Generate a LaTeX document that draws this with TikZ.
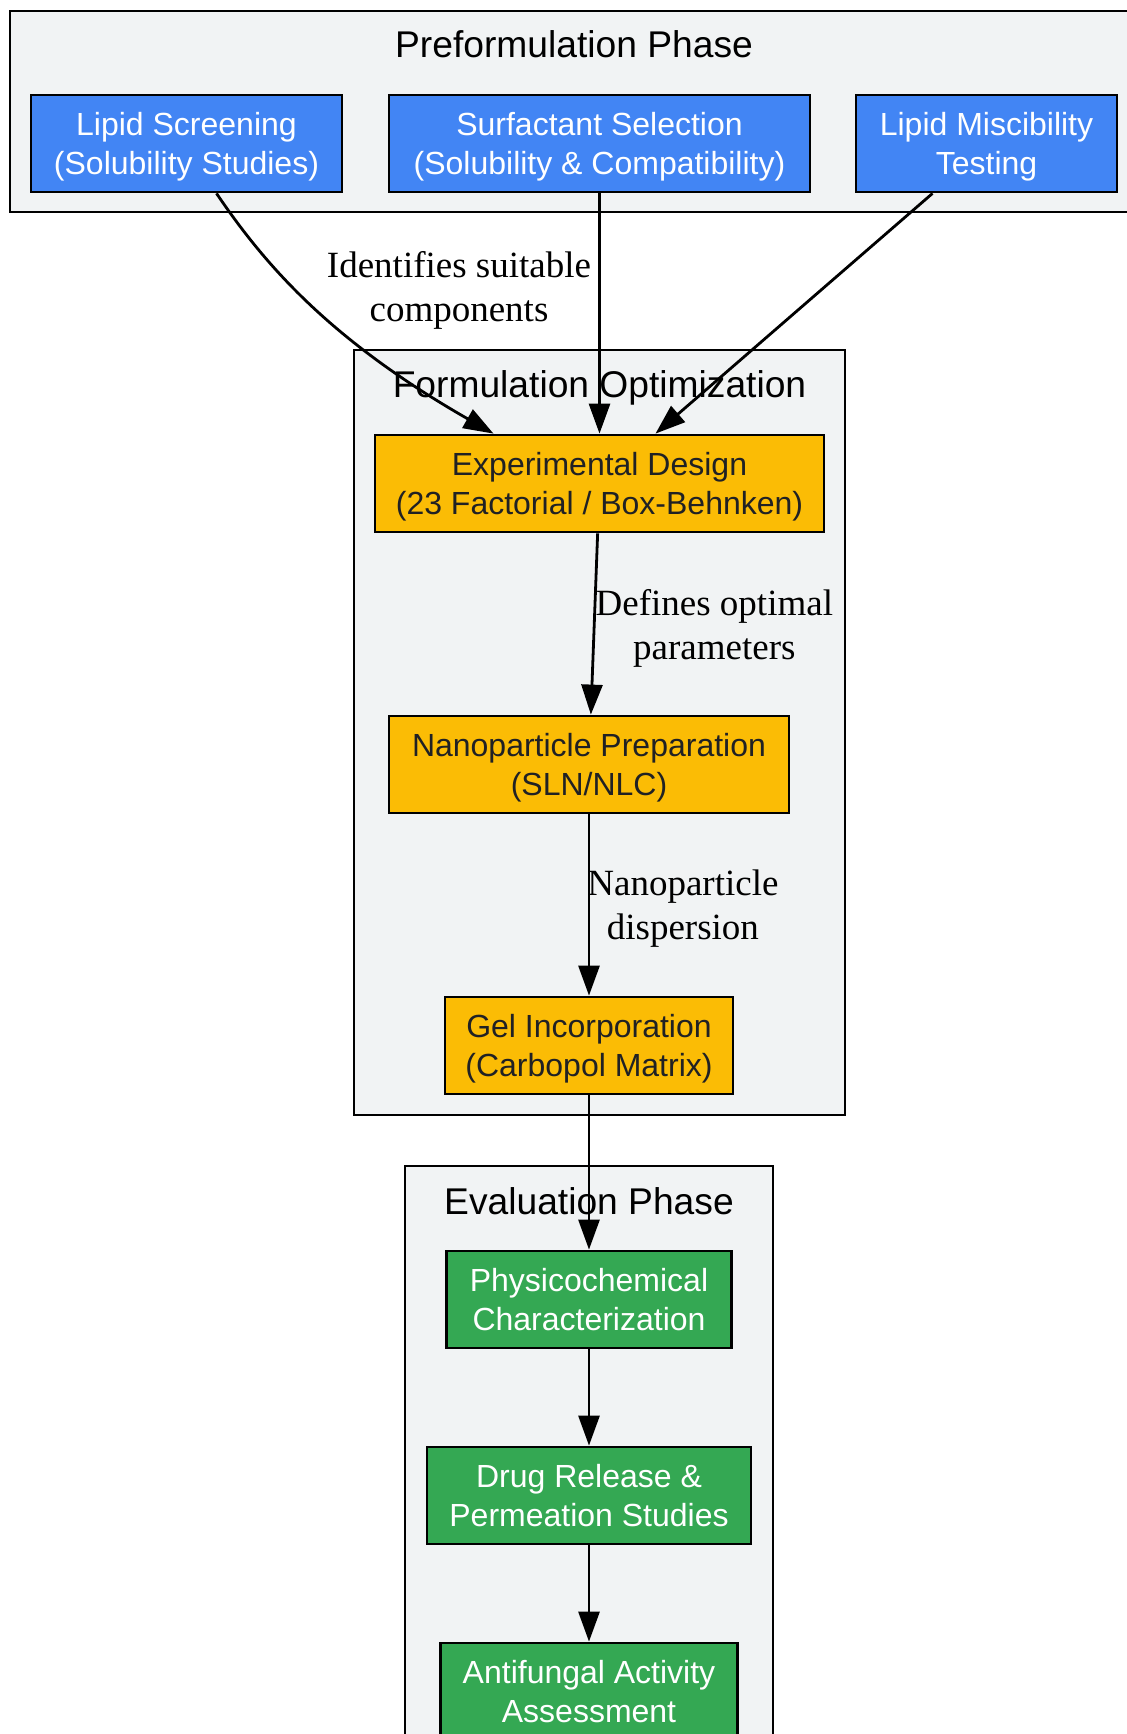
\documentclass[tikz,border=0pt]{standalone}
\usepackage{fontspec}
\setmainfont{Liberation Serif}
\setsansfont{Liberation Sans}
\usetikzlibrary{arrows.meta}

\definecolor{preblue}{HTML}{4285F4}
\definecolor{formyellow}{HTML}{FBBC05}
\definecolor{evalgreen}{HTML}{34A853}
\definecolor{clustergray}{HTML}{F1F3F4}
\definecolor{darktext}{HTML}{202124}

\begin{document}
\begin{tikzpicture}[
    x = 0.5pt, y = -0.5pt,
    line width = 1.4pt,
    > = {Triangle[length = 15pt, width = 10.5pt]},
    %
    cluster/.style = {draw, line width = 1pt, fill = clustergray, inner sep = 0pt},
    clustertitle/.style = {text depth = 0pt,
      font = \sffamily\fontsize{18.6}{22}\selectfont},
    %
    stage/.style = {draw, inner sep = 0pt, align = center,
      minimum height = 48.5pt, text depth = 0pt,
      font = \sffamily\fontsize{16}{19.2}\selectfont},
    prestage/.style = {fill = preblue, text = white},
    formstage/.style = {fill = formyellow, text = darktext},
    evalstage/.style = {fill = evalgreen, text = white},
    %
    edgetext/.style = {align = center, inner sep = 0pt, text depth = 0pt,
      font = \fontsize{18.5}{22}\selectfont},
    ]

    \fill [white] (0, 0) rectangle (1127, 1734);
    \useasboundingbox (0, 0) rectangle (1127, 1734);
    \clip (0, 0) rectangle (1127, 1734);

    % phases
    \node at (580, 111.5)
    [cluster, minimum width = 570pt, minimum height = 100.5pt, name = preform] {};
    \node at (574, 44) [clustertitle, name = preform_t] {Preformulation Phase};

    \node at (599.5, 732.5)
    [cluster, minimum width = 245.5pt, minimum height = 382.5pt, name = optim] {};
    \node at (599.5, 384) [clustertitle, name = optim_t] {Formulation Optimization};

    \node at (589, 1483)
    [cluster, minimum width = 184pt, minimum height = 317pt, name = evaluation] {};
    \node at (589, 1201) [clustertitle, name = evaluation_t] {Evaluation Phase};

    % steps
    \node at (186.5, 143.5)
    [stage, prestage, minimum width = 155.5pt, name = lipid]
    {Lipid Screening\\(Solubility Studies)};
    \node at (599.5, 143.5)
    [stage, prestage, minimum width = 210.5pt, name = surf]
    {Surfactant Selection\\(Solubility \& Compatibility)};
    \node at (986.5, 143.5)
    [stage, prestage, minimum width = 130.5pt, name = misc]
    {Lipid Miscibility\\Testing};

    \node at (599.5, 483.5)
    [stage, formstage, minimum width = 224.5pt, name = design]
    {Experimental Design\\(23 Factorial / Box-Behnken)};
    \node at (589, 764.5)
    [stage, formstage, minimum width = 200pt, name = nano]
    {Nanoparticle Preparation\\(SLN/NLC)};
    \node at (589, 1045.5)
    [stage, formstage, minimum width = 144pt, name = gel]
    {Gel Incorporation\\(Carbopol Matrix)};

    \node at (589, 1299.5)
    [stage, evalstage, minimum width = 142.5pt, name = physchem]
    {Physicochemical\\Characterization};
    \node at (589, 1495.5)
    [stage, evalstage, minimum width = 162pt, name = release]
    {Drug Release \&\\Permeation Studies};
    \node at (589, 1691.5)
    [stage, evalstage, minimum width = 148.5pt, name = antifungal]
    {Antifungal Activity\\Assessment};

    % flow
    \draw [->] ([xshift = 15pt]lipid.south)
    .. controls (265, 265) and (330, 340) .. ([xshift = -53pt]design.north);
    \node at (459, 286) [edgetext, name = identifies]
    {Identifies suitable\\components};

    \draw [->] (surf) to (design);

    \draw [->] ([xshift = -27pt]misc.south) to ([xshift = 28pt]design.north);

    \draw [->] (design) to node [midway, right, edgetext]
    {Defines optimal\\parameters} (nano);

    \draw [->] (nano) to node [midway, right, xshift = -1.5pt, edgetext]
    {Nanoparticle\\dispersion} (gel);

    \draw [->] (gel) to (physchem);

    \draw [->] (physchem) to (release);

    \draw [->] (release) to (antifungal);

  \end{tikzpicture}
\end{document}
